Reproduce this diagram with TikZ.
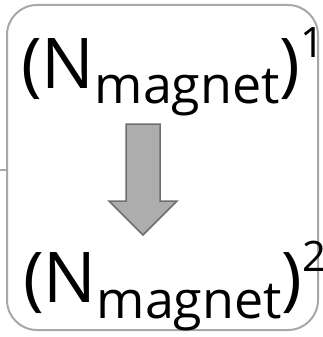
\documentclass[tikz,border=0pt]{standalone}
\usepackage{fontspec}
\setmainfont{Open Sans}
\definecolor{framegray}{HTML}{A8A8A8}
\definecolor{arrowfill}{HTML}{ADADAD}
\definecolor{arrowedge}{HTML}{6E6E6E}
\newcommand\subtext[1]{\raisebox{-16pt}{\fontsize{52}{56}\selectfont #1}}
\newcommand\suptext[1]{\raisebox{31pt}{\fontsize{42}{46}\selectfont #1}}
\tikzset{
  frame/.style={draw=framegray, line width=2pt, rounded corners=30pt, inner sep=0pt, outer sep=0pt},
  formula/.style={inner sep=0pt, anchor=base west, font=\fontsize{70}{74}\selectfont},
  downarrow/.style={draw=arrowedge, fill=arrowfill, line width=1.5pt, line join=miter},
  stubline/.style={draw=framegray, line width=1.5pt}
}
\begin{document}
\begin{tikzpicture}[x=1pt,y=-1pt]
\useasboundingbox (0,0) rectangle (323,337);
\node[frame, minimum width=311pt, minimum height=325pt] (frame) at (162.5,167.5) {};
\coordinate (stubend) at (0,170);
\draw[stubline] (stubend) -- (frame.west |- stubend);
\node[formula] (top) at (21,88) {(N\subtext{magnet})\suptext{1}};
\node[formula] (bottom) at (23,302) {(N\subtext{magnet})\suptext{2}};
\draw[downarrow] (126,124) -- (160,124) -- (160,201) -- (177,201) -- (143,235) -- (109,201) -- (126,201) -- cycle;
\end{tikzpicture}
\end{document}
